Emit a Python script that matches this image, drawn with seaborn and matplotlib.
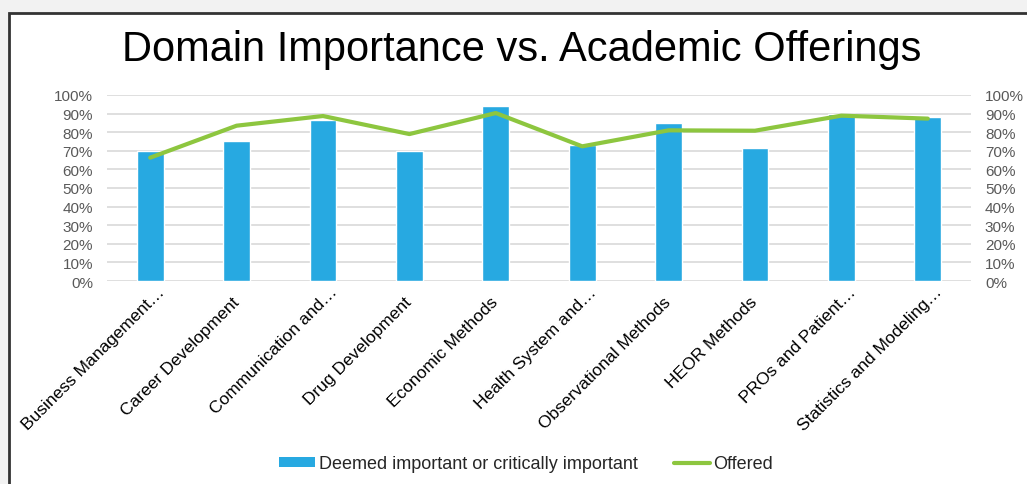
import numpy as np
import matplotlib
matplotlib.use("Agg")
import matplotlib.pyplot as plt
from matplotlib.patches import Rectangle, Patch
from matplotlib.lines import Line2D
from matplotlib.ticker import PercentFormatter
from matplotlib.transforms import ScaledTranslation
import seaborn as sns

categories = [
    "Business Management…",
    "Career Development",
    "Communication and…",
    "Drug Development",
    "Economic Methods",
    "Health System and…",
    "Observational Methods",
    "HEOR Methods",
    "PROs and Patient…",
    "Statistics and Modeling…",
]
important = [0.70, 0.753, 0.864, 0.70, 0.941, 0.733, 0.851, 0.717, 0.896, 0.882]
offered = [0.663, 0.835, 0.887, 0.79, 0.903, 0.724, 0.81, 0.808, 0.889, 0.873]
y_ticks = [0, 0.1, 0.2, 0.3, 0.4, 0.5, 0.6, 0.7, 0.8, 0.9, 1.0]

bar_color = "#27A9E1"
line_color = "#8DC63F"
grid_color = "#D9D9D9"
tick_gray = "#595959"

sns.set_theme(style="white")
plt.rcParams["font.family"] = ["Liberation Sans", "DejaVu Sans"]

W, H = 1027, 485
fig = plt.figure(figsize=(W / 100, H / 100), dpi=100, facecolor="#F2F2F2")

# white chart card with a dark frame on the left and top
fig.patches.append(Rectangle((8.5 / W, -0.05), 1.1, 1.05 - 14 / H,
                             transform=fig.transFigure, facecolor="white",
                             edgecolor="#333333", linewidth=2, zorder=-10))

ax = fig.add_axes([107 / W, 1 - 282 / H, 864 / W, 186 / H])
ax.set_facecolor("none")

sns.barplot(x=categories, y=important, color=bar_color, width=0.31,
            saturation=1, ax=ax, zorder=3)
positions = np.arange(len(categories))
sns.lineplot(x=positions, y=offered, sort=False, color=line_color,
             linewidth=3, ax=ax, zorder=4)

ax.set_xlim(-0.5, len(categories) - 0.5)
ax.set_ylim(0, 1)
ax.set_yticks(y_ticks)
ax.yaxis.set_major_formatter(PercentFormatter(1.0, decimals=0))
ax.grid(axis="y", color=grid_color, linewidth=1.2, zorder=0)
ax.set_axisbelow(True)
for s in ax.spines.values():
    s.set_visible(False)
ax.tick_params(axis="y", length=0, pad=10, labelsize=11, labelcolor=tick_gray)
ax.tick_params(axis="x", length=0, pad=13, labelsize=12.5, labelcolor="black")
ax.set_xticks(positions)
ax.set_xticklabels(categories, rotation=45, ha="right", va="center",
                   rotation_mode="anchor")

# truncated labels sit a little further along their slant
for lbl in ax.get_xticklabels():
    if lbl.get_text().endswith("…"):
        lbl.set_transform(lbl.get_transform() +
                          ScaledTranslation(0.12, 0.10, fig.dpi_scale_trans))

# secondary percentage scale on the right
ax2 = ax.twinx()
ax2.set_ylim(0, 1)
ax2.set_yticks(y_ticks)
ax2.yaxis.set_major_formatter(PercentFormatter(1.0, decimals=0))
for s in ax2.spines.values():
    s.set_visible(False)
ax2.tick_params(axis="y", length=0, pad=10, labelsize=11, labelcolor=tick_gray)
ax2.grid(False)

fig.text(522 / W, 1 - 50 / H, "Domain Importance vs. Academic Offerings",
         ha="center", va="center", fontsize=30, color="black")

handles = [
    Patch(facecolor=bar_color, edgecolor="none",
          label="Deemed important or critically important"),
    Line2D([0], [0], color=line_color, linewidth=3, label="Offered"),
]
fig.legend(handles=handles, loc="center", bbox_to_anchor=(526 / W, 1 - 465 / H),
           ncol=2, frameon=False, fontsize=13, handlelength=2.0,
           handleheight=0.45, handletextpad=0.2, columnspacing=2.0)

ax.set_xlabel("")
ax.set_ylabel("")
fig.savefig("out.png", dpi=100, facecolor=fig.get_facecolor())
